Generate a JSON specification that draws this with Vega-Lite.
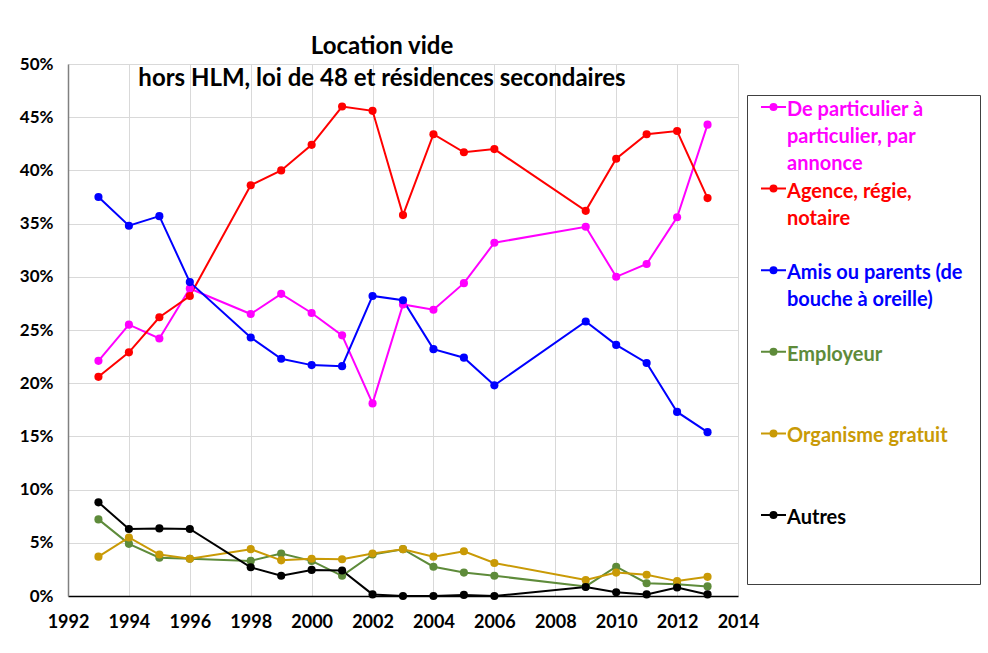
{
  "$schema": "https://vega.github.io/schema/vega-lite/v6.json",
  "width": 670,
  "height": 532,
  "autosize": {"type": "none"},
  "padding": {"left": 68, "top": 64, "right": 250, "bottom": 57},
  "background": "white",
  "config": {"font": "Lato", "view": {"stroke": null}},
  "title": {
    "text": ["Location vide", "hors HLM, loi de 48 et résidences secondaires"],
    "font": "Lato",
    "fontSize": 24,
    "fontWeight": "bold",
    "color": "#000000",
    "anchor": "middle",
    "dx": -21,
    "offset": -36,
    "lineHeight": 32
  },
  "data": {
    "values": [
      {"year": 1993, "p": 22.1, "a": 20.6, "m": 37.5, "e": 7.2, "o": 3.7, "x": 8.8},
      {"year": 1994, "p": 25.5, "a": 22.9, "m": 34.8, "e": 4.9, "o": 5.5, "x": 6.3},
      {"year": 1995, "p": 24.2, "a": 26.2, "m": 35.7, "e": 3.6, "o": 3.9, "x": 6.35},
      {"year": 1996, "p": 28.9, "a": 28.2, "m": 29.5, "e": 3.5, "o": 3.5, "x": 6.3},
      {"year": 1998, "p": 26.5, "a": 38.6, "m": 24.3, "e": 3.3, "o": 4.4, "x": 2.7},
      {"year": 1999, "p": 28.4, "a": 40.0, "m": 22.3, "e": 4.0, "o": 3.35, "x": 1.9},
      {"year": 2000, "p": 26.6, "a": 42.4, "m": 21.7, "e": 3.3, "o": 3.5, "x": 2.45},
      {"year": 2001, "p": 24.5, "a": 46.0, "m": 21.6, "e": 1.9, "o": 3.45, "x": 2.4},
      {"year": 2002, "p": 18.1, "a": 45.6, "m": 28.2, "e": 3.9, "o": 4.0, "x": 0.15},
      {"year": 2003, "p": 27.4, "a": 35.8, "m": 27.8, "e": 4.4, "o": 4.4, "x": 0.0},
      {"year": 2004, "p": 26.9, "a": 43.4, "m": 23.2, "e": 2.75, "o": 3.7, "x": 0.0},
      {"year": 2005, "p": 29.4, "a": 41.7, "m": 22.4, "e": 2.2, "o": 4.2, "x": 0.1},
      {"year": 2006, "p": 33.2, "a": 42.0, "m": 19.8, "e": 1.9, "o": 3.1, "x": 0.0},
      {"year": 2009, "p": 34.7, "a": 36.2, "m": 25.8, "e": 0.9, "o": 1.5, "x": 0.85},
      {"year": 2010, "p": 30.0, "a": 41.1, "m": 23.6, "e": 2.75, "o": 2.2, "x": 0.35},
      {"year": 2011, "p": 31.2, "a": 43.4, "m": 21.9, "e": 1.2, "o": 2.0, "x": 0.15},
      {"year": 2012, "p": 35.6, "a": 43.7, "m": 17.3, "e": 1.1, "o": 1.4, "x": 0.8},
      {"year": 2013, "p": 44.3, "a": 37.4, "m": 15.4, "e": 0.9, "o": 1.8, "x": 0.15}
    ]
  },
  "transform": [
    {"fold": ["p", "a", "m", "e", "o", "x"], "as": ["key", "pct"]},
    {"lookup": "key", "from": {"data": {"values": [
      {"key": "p", "serie": "De particulier à particulier, par annonce"},
      {"key": "a", "serie": "Agence, régie, notaire"},
      {"key": "m", "serie": "Amis ou parents (de bouche à oreille)"},
      {"key": "e", "serie": "Employeur"},
      {"key": "o", "serie": "Organisme gratuit"},
      {"key": "x", "serie": "Autres"}
    ]}, "key": "key", "fields": ["serie"]}}
  ],
  "mark": {"type": "line", "strokeWidth": 2, "point": {"filled": true, "size": 66, "opacity": 1}},
  "encoding": {
    "x": {
      "field": "year",
      "type": "quantitative",
      "scale": {"domain": [1992, 2014], "nice": false, "zero": false},
      "axis": {
        "title": null,
        "values": [1992, 1994, 1996, 1998, 2000, 2002, 2004, 2006, 2008, 2010, 2012, 2014],
        "format": "d",
        "labelFlush": false,
        "labelOverlap": false,
        "labelFont": "Lato",
        "labelFontSize": 18,
        "labelFontWeight": "bold",
        "labelColor": "#000000",
        "labelPadding": 17,
        "ticks": false,
        "domainColor": "#000000",
        "domainWidth": 1.5,
        "grid": true,
        "gridColor": "#d9d9d9",
        "gridWidth": 1
      }
    },
    "y": {
      "field": "pct",
      "type": "quantitative",
      "scale": {"domain": [0, 50], "nice": false},
      "axis": {
        "title": null,
        "values": [0, 5, 10, 15, 20, 25, 30, 35, 40, 45, 50],
        "labelExpr": "datum.value + '%'",
        "labelFlush": false,
        "labelFont": "Lato",
        "labelFontSize": 17,
        "labelFontWeight": "bold",
        "labelColor": "#000000",
        "labelPadding": 15,
        "ticks": false,
        "domainColor": "#808080",
        "domainWidth": 1.5,
        "grid": true,
        "gridColor": "#d9d9d9",
        "gridWidth": 1
      }
    },
    "color": {
      "field": "serie",
      "type": "nominal",
      "scale": {
        "domain": ["De particulier à particulier, par annonce", "Agence, régie, notaire", "Amis ou parents (de bouche à oreille)", "Employeur", "Organisme gratuit", "Autres"],
        "range": ["#FF00FF", "#FF0000", "#0000FF", "#5E8B3A", "#C99A06", "#000000"]
      },
      "legend": {
        "title": null,
        "orient": "none",
        "legendX": 679,
        "legendY": 31,
        "strokeColor": "#404040",
        "fillColor": "white",
        "padding": 2,
        "symbolType": "M1,0H13.5M8.75,0A1.5,1.5,0,1,1,5.75,0A1.5,1.5,0,1,1,8.75,0",
        "symbolSize": 16,
        "symbolStrokeWidth": 2,
        "labelFont": "Lato",
        "labelFontSize": 20,
        "labelFontWeight": "bold",
        "labelLimit": 400,
        "labelBaseline": "top",
        "labelOffset": 18,
        "labelColor": {"expr": "scale('color', datum.value)"},
        "labelExpr": "datum.label == 'De particulier à particulier, par annonce' ? ['De particulier à', 'particulier, par', 'annonce'] : datum.label == 'Agence, régie, notaire' ? ['Agence, régie,', 'notaire', ''] : datum.label == 'Amis ou parents (de bouche à oreille)' ? ['Amis ou parents (de\u2800', 'bouche à oreille)', ''] : [datum.label, '', '']",
        "rowPadding": 4.6,
        "encode": {"labels": {"update": {"lineHeight": {"value": 27}, "dy": {"value": -7}}}}
      }
    }
  }
}
